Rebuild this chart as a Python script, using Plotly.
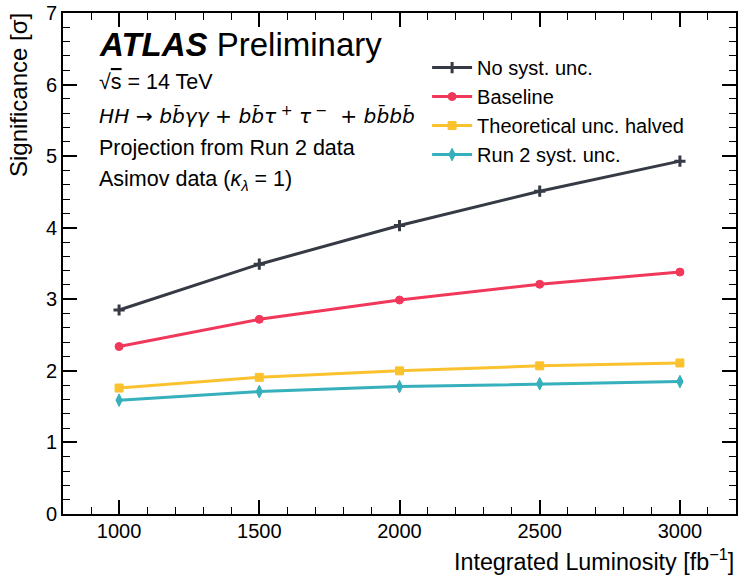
import plotly.graph_objects as go

lumi = [1000, 1500, 2000, 2500, 3000]
no_syst = [2.85, 3.49, 4.03, 4.51, 4.93]
baseline = [2.34, 2.72, 2.99, 3.21, 3.38]
theo_halved = [1.76, 1.91, 2.00, 2.07, 2.11]
run2_syst = [1.59, 1.71, 1.78, 1.82, 1.85]

series = [
    ("No syst. unc.", no_syst, "#363a45", "cross-thin", 8),
    ("Baseline", baseline, "#f2385a", "circle", 8),
    ("Theoretical unc. halved", theo_halved, "#fbc22f", "square", 8),
    ("Run 2 syst. unc.", run2_syst, "#35b0bc", "diamond-tall", 9),
]

FONT = "Liberation Sans, Arial, Helvetica, sans-serif"
MATH = "DejaVu Sans, Liberation Sans, sans-serif"

fig = go.Figure()
for name, vals, col, sym, sz in series:
    fig.add_trace(go.Scatter(
        x=lumi, y=vals, name=name, mode="lines+markers",
        line=dict(color=col, width=3),
        marker=dict(symbol=sym, size=sz, color=col,
                    line=dict(color=col, width=3 if sym == "cross-thin" else 1)),
    ))

axis_common = dict(
    showline=True, linecolor="black", linewidth=2, mirror="ticks",
    ticks="inside", ticklen=14, tickwidth=2, tickcolor="black",
    showgrid=False, zeroline=False,
    tickfont=dict(family=FONT, size=20, color="black"),
)

fig.update_xaxes(
    range=[800, 3200], tickvals=[1000, 1500, 2000, 2500, 3000],
    ticklabelstandoff=-2,
    minor=dict(ticks="inside", ticklen=7, tickwidth=1, tickcolor="black", dtick=100, tick0=0, showgrid=False),
    **axis_common,
)
fig.update_yaxes(
    range=[0, 7], dtick=1,
    minor=dict(ticks="inside", ticklen=7, tickwidth=1, tickcolor="black", dtick=0.2, tick0=0, showgrid=False),
    **axis_common,
)

anns = [
    dict(y=0.978, text="<b><i>ATLAS</i></b> Preliminary", size=33, yanchor="top", fam=FONT),
    dict(y=0.863, text="√<span style='text-decoration:overline'>s</span> = 14 TeV", size=21.5, yanchor="middle", fam=FONT),
    dict(y=0.797,
         text="<i>HH</i> → <i>bb̄γγ</i> + <i>bb̄τ</i><sup> +</sup> <i>τ</i><sup> −</sup>  + <i>bb̄bb̄</i>",
         size=20.2, yanchor="middle", fam=MATH),
    dict(y=0.730, text="Projection from Run 2 data", size=21.5, yanchor="middle", fam=FONT),
    dict(y=0.666, text="Asimov data (<i>κ</i><sub><i>λ</i></sub> = 1)", size=21.5, yanchor="middle", fam=FONT),
]
annotations = []
for a in anns:
    annotations.append(dict(
        xref="paper", yref="paper", x=0.05, y=a["y"], xanchor="left", yanchor=a["yanchor"],
        text=a["text"], showarrow=False, font=dict(family=a["fam"], size=a["size"], color="black"),
    ))
annotations.append(dict(
    xref="paper", yref="paper", x=1.0, y=-0.125, xanchor="right", yanchor="bottom",
    text="Integrated Luminosity [fb<sup>−1</sup>]", showarrow=False,
    font=dict(family=FONT, size=23.3, color="black"),
))
annotations.append(dict(
    xref="paper", yref="paper", x=-0.043, y=1.003, xanchor="right", yanchor="top",
    text="Significance [σ]", showarrow=False, textangle=-90,
    font=dict(family=FONT, size=24, color="black"),
))

fig.update_layout(
    width=740, height=579,
    margin=dict(l=63, r=2, t=11, b=65),
    paper_bgcolor="white", plot_bgcolor="white",
    font=dict(family=FONT, size=18, color="black"),
    showlegend=True,
    legend=dict(
        x=0.541, y=0.93, xanchor="left", yanchor="top",
        bgcolor="rgba(0,0,0,0)", font=dict(family=FONT, size=20, color="black"),
        itemwidth=40, tracegroupgap=0,
    ),
    annotations=annotations,
)

fig.write_html("out.html", config={"displayModeBar": False},
               post_script="document.body.style.margin='0';")
